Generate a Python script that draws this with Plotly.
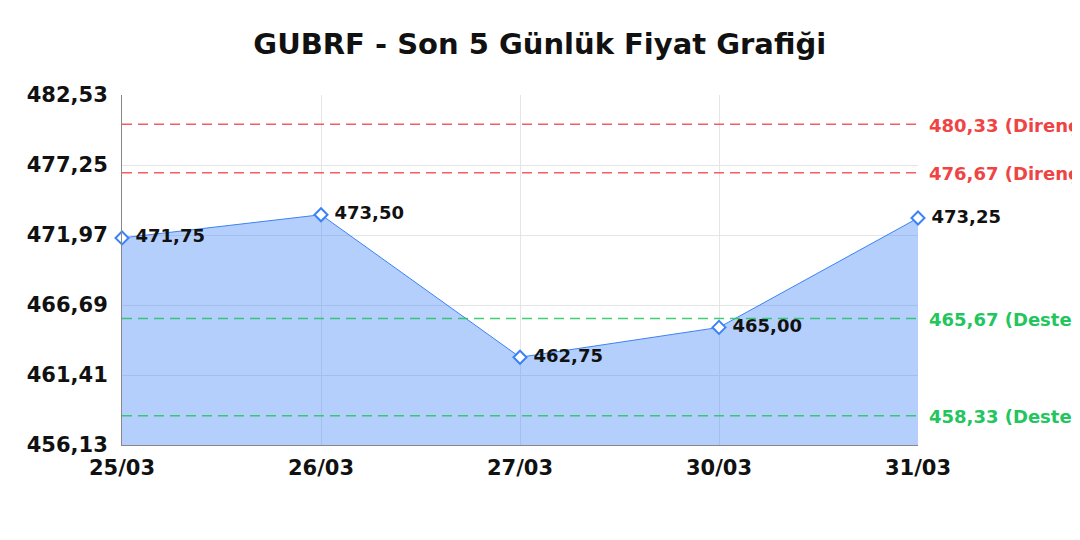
import plotly.graph_objects as go

dates = ['25/03', '26/03', '27/03', '30/03', '31/03']
prices = [471.75, 473.50, 462.75, 465.00, 473.25]
price_labels = ['471,75', '473,50', '462,75', '465,00', '473,25']

resistance = [480.33, 476.67]
support = [465.67, 458.33]

y_ticks = [456.13, 461.41, 466.69, 471.97, 477.25, 482.53]
y_tick_labels = ['456,13', '461,41', '466,69', '471,97', '477,25', '482,53']

FONT = 'DejaVu Sans'
RED = '#ef4444'
GREEN = '#22c55e'
BLUE = '#3b82f6'

fig = go.Figure()

fig.add_trace(go.Scatter(
    x=dates, y=prices,
    mode='lines+markers+text',
    fill='tozeroy',
    fillcolor='rgba(59,130,246,0.38)',
    line=dict(color=BLUE, width=1),
    marker=dict(symbol='diamond', size=10, color='white', line=dict(width=2, color=BLUE)),
    text=[' ' + t for t in price_labels],
    textposition='middle right',
    textfont=dict(family=FONT, size=18, color='#111111', weight='bold'),
    cliponaxis=False,
    hoverinfo='skip',
    showlegend=False,
))

for lvl in resistance:
    fig.add_hline(y=lvl, line=dict(color=RED, width=1.5, dash='10px,6px'), opacity=0.85)
    fig.add_annotation(x=1, xref='paper', y=lvl, yref='y', xanchor='left',
                       xshift=9, yshift=-1, showarrow=False,
                       text=f'{lvl:.2f}'.replace('.', ',') + ' (Direnç)',
                       font=dict(family=FONT, size=18, color=RED, weight='bold'))
for lvl in support:
    fig.add_hline(y=lvl, line=dict(color=GREEN, width=1.5, dash='10px,6px'), opacity=0.85)
    fig.add_annotation(x=1, xref='paper', y=lvl, yref='y', xanchor='left',
                       xshift=9, yshift=-1, showarrow=False,
                       text=f'{lvl:.2f}'.replace('.', ',') + ' (Destek)',
                       font=dict(family=FONT, size=18, color=GREEN, weight='bold'))

# page body has an 8px margin, so the figure is a bit smaller than the window
fig.update_layout(
    width=1072, height=532,
    margin=dict(l=114, r=162, t=87, b=95),
    paper_bgcolor='white', plot_bgcolor='white',
    title=dict(text='GUBRF - Son 5 Günlük Fiyat Grafiği', x=0.496, xanchor='center',
               xref='container', y=0.932, yanchor='middle',
               font=dict(family=FONT, size=29, color='#111111', weight='bold')),
    xaxis=dict(type='category', range=[0, 4], showgrid=True, gridcolor='#e5e5e5',
               showline=True, linecolor='#888888', ticks='', automargin=False,
               ticklabelstandoff=4,
               tickfont=dict(family=FONT, size=21, color='#111111', weight='bold')),
    yaxis=dict(range=[456.13, 482.53], tickvals=y_ticks, ticktext=y_tick_labels,
               showgrid=True, gridcolor='#e5e5e5', zeroline=False, automargin=False,
               showline=True, linecolor='#888888', ticks='', ticklabelstandoff=9,
               tickfont=dict(family=FONT, size=21, color='#111111', weight='bold')),
)

fig.write_html('out.html')
